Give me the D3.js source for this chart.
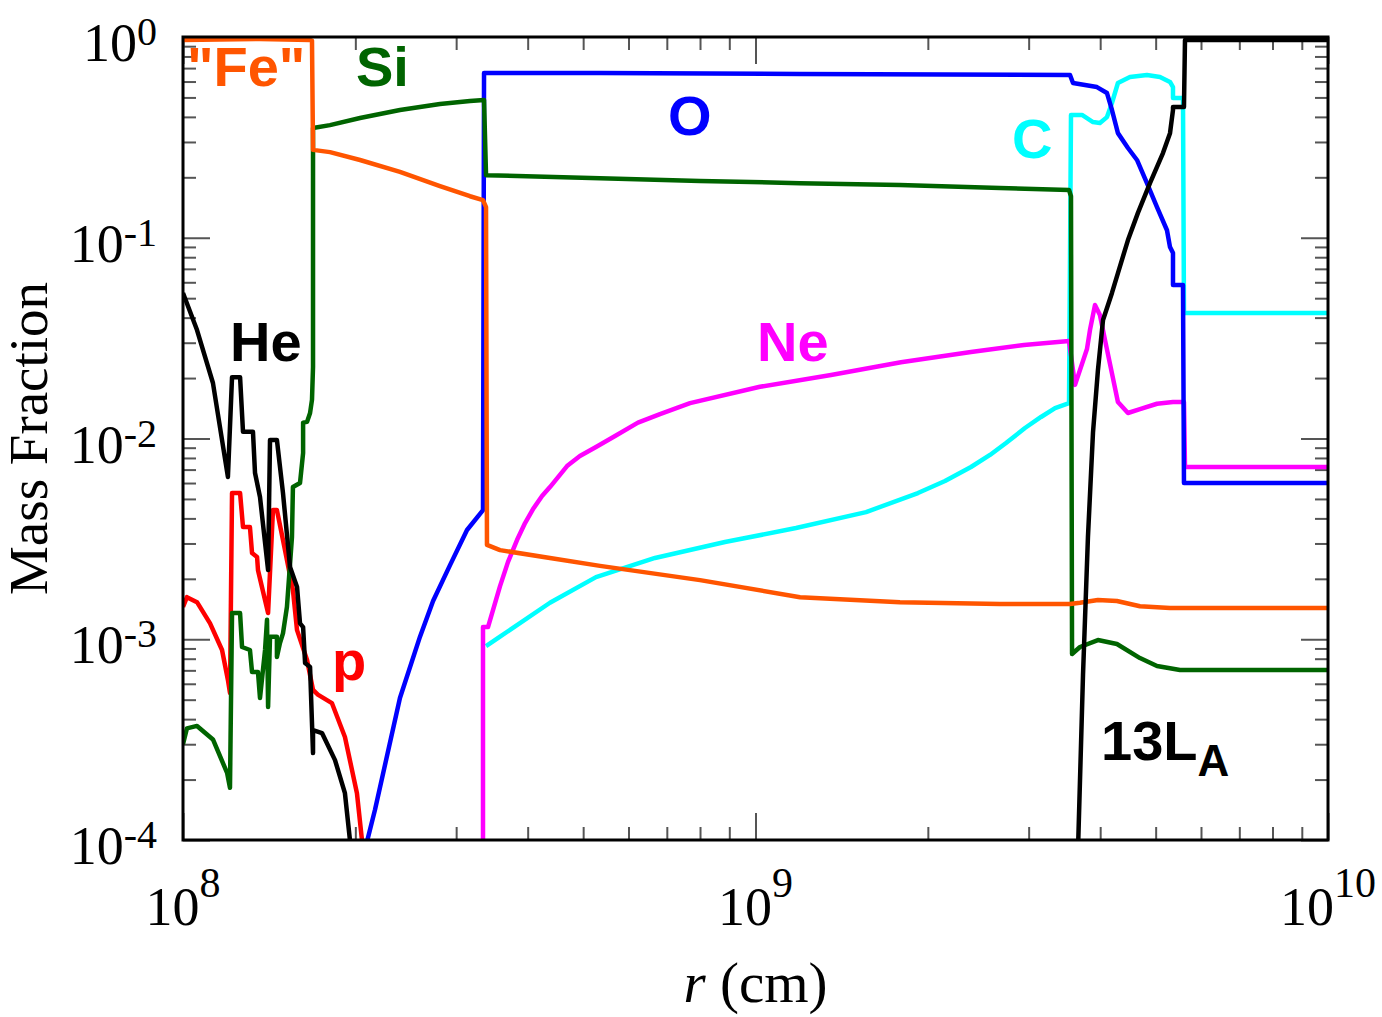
<!DOCTYPE html>
<html>
<head>
<style>
    body { margin: 0; background: #fff; overflow: hidden; }
    .tick line { stroke: #555; stroke-width: 2; }
    .domain { display: none; }
    .ticklab { font-family: "Liberation Serif", "Times New Roman", serif; fill: #000; }
    .axtitle { font-family: "Liberation Serif", "Times New Roman", serif; font-size: 57px; fill: #000; }
    .lab { font-family: "Liberation Sans", Arial, sans-serif; font-weight: bold; font-size: 56px; }
    .curve { fill: none; stroke-width: 4.5; stroke-linejoin: round; }
</style>
<script src="https://d3js.org/d3.v7.min.js"></script>
</head>
<body>
<svg width="1382" height="1017"></svg>
<script>
// mass fractions vs radius r (cm)
var fe = [[1.0e8,0.966],[1.363e8,0.977],[1.667e8,0.966],[1.680e8,0.96],[1.687e8,0.274],[1.806e8,0.267],
    [2.038e8,0.244],[2.393e8,0.213],[2.811e8,0.181],[3.172e8,0.161],[3.342e8,0.154],[3.383e8,0.142],
    [3.396e8,0.00295],[3.579e8,0.00278],[4.375e8,0.00254],[5.35e8,0.00232],[8.0e8,0.00197],[11.96e8,0.00162],
    [17.88e8,0.00153],[26.73e8,0.00150],[35.43e8,0.00150],[36.88e8,0.00152],[39.64e8,0.00157],[42.79e8,0.00155],
    [46.94e8,0.00146],[52.97e8,0.00143],[1e10,0.00143]];

var si = [[1.0e8,0.00030],[1.016e8,0.00036],[1.058e8,0.00037],[1.128e8,0.000317],[1.194e8,0.000216],[1.208e8,0.000182],
    [1.218e8,0.00135],[1.258e8,0.00135],[1.268e8,0.000915],[1.309e8,0.000884],[1.320e8,0.000687],[1.352e8,0.000687],
    [1.363e8,0.00051],[1.391e8,0.000884],[1.402e8,0.00125],[1.408e8,0.00046],[1.419e8,0.00103],[1.459e8,0.00103],
    [1.459e8,0.000816],[1.477e8,0.000958],[1.495e8,0.00107],[1.519e8,0.00145],[1.550e8,0.00323],[1.556e8,0.00573],
    [1.601e8,0.0060],[1.621e8,0.00847],[1.621e8,0.0120],[1.647e8,0.0121],[1.667e8,0.0134],[1.680e8,0.0156],
    [1.687e8,0.0227],[1.687e8,0.0869],[1.687e8,0.352],[1.806e8,0.364],[2.038e8,0.395],[2.393e8,0.433],
    [2.811e8,0.464],[3.172e8,0.480],[3.356e8,0.486],[3.383e8,0.205],[5.35e8,0.198],[8.0e8,0.192],[11.96e8,0.187],
    [17.88e8,0.183],[26.73e8,0.177],[35.29e8,0.173],[35.57e8,0.161],[35.72e8,0.000844],[36.88e8,0.000915],
    [39.64e8,0.000991],[42.79e8,0.000947],[46.94e8,0.000806],[50.27e8,0.000736],[55.14e8,0.000703],[1e10,0.000703]];

var ox = [[2.08e8,0.00009],[2.164e8,0.000141],[2.393e8,0.00051],[2.594e8,0.00103],[2.734e8,0.00155],[2.927e8,0.00234],
    [3.134e8,0.0035],[3.302e8,0.00421],[3.342e8,0.0044],[3.356e8,0.662],[5.35e8,0.662],[11.96e8,0.654],[35.43e8,0.647],
    [35.86e8,0.590],[39.48e8,0.563],[41.11e8,0.526],[41.94e8,0.433],[42.96e8,0.332],[44.73e8,0.280],[46.38e8,0.244],
    [48.28e8,0.187],[50.27e8,0.142],[52.33e8,0.109],[52.97e8,0.0899],[53.61e8,0.0839],[53.61e8,0.0581],
    [55.81e8,0.0581],[56.03e8,0.0060],[1e10,0.0060]];

var cc = [[3.383e8,0.000925],[3.579e8,0.00103],[4.375e8,0.00152],[5.265e8,0.00204],[6.675e8,0.00254],[8.844e8,0.00305],
    [11.77e8,0.00358],[15.60e8,0.0043],[19.22e8,0.00535],[21.43e8,0.00614],[23.79e8,0.00721],[25.68e8,0.00828],
    [27.39e8,0.0095],[29.56e8,0.01128],[31.53e8,0.0128],[33.36e8,0.01418],
    [35.29e8,0.0150],[35.57e8,0.409],[37.18e8,0.409],[38.86e8,0.377],[39.96e8,0.373],[41.11e8,0.399],[41.94e8,0.469],
    [42.96e8,0.590],[45.09e8,0.632],[48.28e8,0.647],[50.88e8,0.632],[52.97e8,0.597],[53.61e8,0.563],[53.61e8,0.497],
    [55.81e8,0.497],[56.03e8,0.0422],[1e10,0.0422]];

var ne = [[3.342e8,0.00009],[3.342e8,0.00115],[3.410e8,0.00115],[3.579e8,0.00184],[3.696e8,0.00243],[3.832e8,0.00312],
    [3.958e8,0.00379],[4.087e8,0.00445],[4.238e8,0.00517],[4.375e8,0.00573],[4.686e8,0.00729],[4.935e8,0.00818],
    [5.265e8,0.00907],[5.685e8,0.01029],[6.233e8,0.0120],[6.81e8,0.01324],[7.685e8,0.0150],[10.18e8,0.0181],
    [13.55e8,0.0207],[17.95e8,0.0240],[23.79e8,0.0270],[29.44e8,0.0292],[35.29e8,0.0306],[36.15e8,0.0185],
    [37.93e8,0.0279],[38.39e8,0.0347],[39.17e8,0.0462],[39.96e8,0.0412],[40.78e8,0.0310],[42.96e8,0.0152],
    [44.73e8,0.0134],[46.94e8,0.0140],[50.27e8,0.0149],[53.61e8,0.0152],[56.03e8,0.0152],[56.26e8,0.00721],
    [1e10,0.00721]];

var he = [[1.0e8,0.0531],[1.058e8,0.0347],[1.128e8,0.0189],[1.198e8,0.00643],[1.218e8,0.0202],[1.258e8,0.0202],
    [1.273e8,0.0108],[1.325e8,0.0108],[1.336e8,0.00673],[1.363e8,0.00511],[1.408e8,0.00221],[1.419e8,0.00983],
    [1.459e8,0.00983],[1.495e8,0.00535],[1.538e8,0.00229],[1.582e8,0.00182],[1.601e8,0.0012],[1.621e8,0.00115],
    [1.634e8,0.000761],[1.667e8,0.000727],[1.687e8,0.000271],[1.687e8,0.000353],[1.749e8,0.000341],
    [1.843e8,0.00025],[1.918e8,0.000171],[1.957e8,0.0001],[1.97e8,0.00009],
    [36.59e8,0.00009],[37.33e8,0.000664],[38.08e8,0.00323],[38.86e8,0.0107],[39.64e8,0.0219],[40.46e8,0.0389],
    [41.94e8,0.0531],[42.96e8,0.0667],[44.73e8,0.0974],[46.56e8,0.133],[48.87e8,0.187],[51.49e8,0.264],
    [52.97e8,0.332],[53.61e8,0.433],[53.61e8,0.448],[55.59e8,0.448],[56.03e8,0.448],[56.26e8,0.966],[1e10,0.966]];

var pp = [[1.0e8,0.00145],[1.016e8,0.00162],[1.058e8,0.00153],[1.115e8,0.0012],[1.170e8,0.000884],[1.198e8,0.000627],
    [1.208e8,0.00054],[1.218e8,0.00535],[1.258e8,0.00535],[1.273e8,0.00362],[1.309e8,0.00362],[1.320e8,0.00269],
    [1.347e8,0.00257],[1.352e8,0.00221],[1.408e8,0.00135],[1.436e8,0.0044],[1.459e8,0.0044],[1.495e8,0.00312],
    [1.556e8,0.00176],[1.582e8,0.00111],[1.647e8,0.000788],[1.687e8,0.000559],[1.72e8,0.00053],[1.82e8,0.000481],
    [1.918e8,0.000326],[2.013e8,0.000171],[2.054e8,0.0001],[2.07e8,0.00009]];

var series = [
    { name: "C", data: cc, color: "#00ffff" },
    { name: "Ne", data: ne, color: "#ff00ff" },
    { name: "O", data: ox, color: "#0000ff" },
    { name: "p", data: pp, color: "#ff0000" },
    { name: "Si", data: si, color: "#006400" },
    { name: "Fe", data: fe, color: "#ff5500" },
    { name: "He", data: he, color: "#000000" }
];

var labelText = ['"Fe"', "Si", "O", "C", "He", "Ne", "p"];
var labelR = [1.016e8, 2.005e8, 7.03e8, 28.05e8, 1.208e8, 10.06e8, 1.821e8];
var labelX = [0.57, 0.57, 0.325, 0.2495, 0.0243, 0.0243, 0.000627];
var labelColor = ["#ff5500", "#006400", "#0000ff", "#00ffff", "#000000", "#ff00ff", "#ff0000"];

var xMajor = [1e8, 1e9, 1e10];
var yMajor = [1e-4, 1e-3, 1e-2, 1e-1, 1];

var svg = d3.select("svg"),
    pLeft = 183, pRight = 1328, pTop = 37, pBottom = 840;

var x = d3.scaleLog().domain([1e8, 1e10]).range([pLeft, pRight]);
var y = d3.scaleLog().domain([1e-4, 1]).range([pBottom, pTop]);

var xMinor = [], yMinor = [];
[1e8, 1e9].forEach(function (d) { for (var k = 2; k < 10; k++) xMinor.push(k * d); });
[1e-4, 1e-3, 1e-2, 1e-1].forEach(function (d) { for (var k = 2; k < 10; k++) yMinor.push(k * d); });

svg.append("clipPath").attr("id", "clip")
    .append("rect").attr("x", pLeft).attr("y", pTop).attr("width", pRight - pLeft).attr("height", pBottom - pTop);

// ticks, pointing inwards on all four sides
function ticks(axis, vals, size, tr) {
    svg.append("g").attr("transform", tr)
        .call(axis.tickValues(vals).tickSize(-size).tickFormat(""));
}
ticks(d3.axisBottom(x), xMinor, 13, "translate(0," + pBottom + ")");
ticks(d3.axisBottom(x), xMajor, 27, "translate(0," + pBottom + ")");
ticks(d3.axisTop(x), xMinor, 13, "translate(0," + pTop + ")");
ticks(d3.axisTop(x), xMajor, 27, "translate(0," + pTop + ")");
ticks(d3.axisLeft(y), yMinor, 13, "translate(" + pLeft + ",0)");
ticks(d3.axisLeft(y), yMajor, 27, "translate(" + pLeft + ",0)");
ticks(d3.axisRight(y), yMinor, 13, "translate(" + pRight + ",0)");
ticks(d3.axisRight(y), yMajor, 27, "translate(" + pRight + ",0)");

var line = d3.line()
    .x(function (d) { return x(d[0]); })
    .y(function (d) { return y(d[1]); });

svg.append("g").attr("clip-path", "url(#clip)")
    .selectAll("path").data(series).enter().append("path")
    .attr("class", "curve")
    .attr("stroke", function (d) { return d.color; })
    .attr("d", function (d) { return line(d.data); });

svg.append("rect")
    .attr("x", pLeft).attr("y", pTop).attr("width", pRight - pLeft).attr("height", pBottom - pTop)
    .attr("fill", "none").attr("stroke", "#000").attr("stroke-width", 3);

// tick labels 10^n
var yl = svg.append("g").selectAll("text").data(yMajor).enter().append("text")
    .attr("class", "ticklab").attr("text-anchor", "end")
    .attr("x", 157).attr("y", function (d) { return y(d) + 24; });
yl.append("tspan").style("font-size", "54px").text("10");
yl.append("tspan").style("font-size", "40px").attr("dy", -16)
    .text(function (d) { return Math.round(Math.log10(d)); });

var xl = svg.append("g").selectAll("text").data(xMajor).enter().append("text")
    .attr("class", "ticklab").attr("text-anchor", "middle")
    .attr("x", function (d) { return x(d); }).attr("y", 925);
xl.append("tspan").style("font-size", "54px").text("10");
xl.append("tspan").style("font-size", "42px").attr("dy", -28)
    .text(function (d) { return Math.round(Math.log10(d)); });

svg.append("text").attr("class", "axtitle").attr("text-anchor", "middle")
    .style("font-size", "55px")
    .attr("transform", "translate(47," + ((pTop + pBottom) / 2) + ") rotate(-90)")
    .text("Mass Fraction");

var xt = svg.append("text").attr("class", "axtitle").attr("text-anchor", "middle")
    .attr("x", (pLeft + pRight) / 2).attr("y", 1002);
xt.append("tspan").style("font-style", "italic").text("r");
xt.append("tspan").text(" (cm)");

// species labels
svg.append("g").selectAll("text").data(labelText).enter().append("text")
    .attr("class", "lab")
    .attr("x", function (d, i) { return x(labelR[i]); })
    .attr("y", function (d, i) { return y(labelX[i]); })
    .attr("fill", function (d, i) { return labelColor[i]; })
    .text(function (d) { return d; });

var model = svg.append("text").attr("class", "lab").attr("fill", "#000")
    .attr("x", x(40.13e8)).attr("y", y(0.00025));
model.append("tspan").text("13L");
model.append("tspan").style("font-size", "44px").attr("dy", 16).text("A");
</script>
</body>
</html>
